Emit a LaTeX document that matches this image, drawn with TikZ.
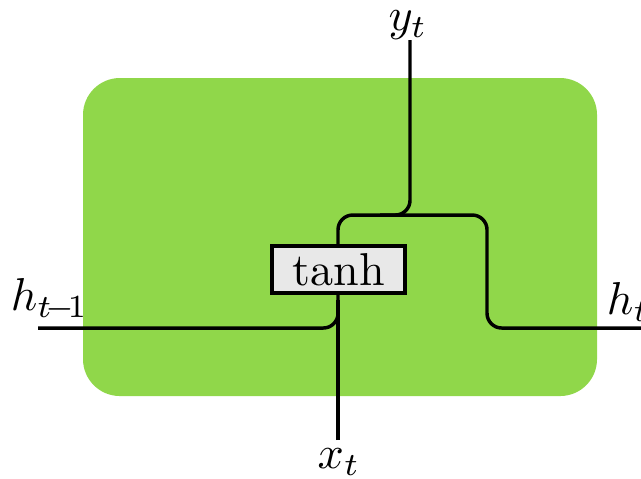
\documentclass[tikz,border=0pt]{standalone}
\definecolor{cellgreen}{RGB}{144,215,74}
\definecolor{boxgray}{RGB}{232,232,232}
\begin{document}
\begin{tikzpicture}[x=0.217pt,y=-0.217pt,
  wire/.style={line width=0.75pt,rounded corners=3.2pt},
  gatebox/.style={draw,line width=0.75pt,fill=boxgray,minimum width=133*0.217pt,minimum height=47*0.217pt,inner sep=0pt},
  lbl/.style={inner sep=0pt}]
\useasboundingbox (0,0) rectangle (641,478);
\fill[cellgreen,rounded corners=8pt] (83,78) rectangle (597,396);
% coordinates
\coordinate (hin) at (38,328);
\coordinate (hout) at (641,328);
\coordinate (xin) at (338,440);
\coordinate (yout) at (410,40);
\coordinate (join) at (338,300);
% wires
\draw[wire] (xin) -- (join);
\draw[wire] (hin) -- (338,328) -- (join);
\draw[wire] (join) -- (338,215) -- (487,215) -- (487,328) -- (hout);
\draw[wire] (yout) -- (410,215) -- (380,215);
% gate
\node[gatebox] (tanh) at (338.5,269.5) {tanh};
% labels
\node[lbl] (yl) at (408,25) {$y_t$};
\node[lbl] (xl) at (339,462) {$x_t$};
\node[lbl,anchor=south west] (hl) at (10,322) {$h_{t\!-\!1}$};
\node[lbl,anchor=south west] (hr) at (606,322) {$h_t$};
\end{tikzpicture}
\end{document}
